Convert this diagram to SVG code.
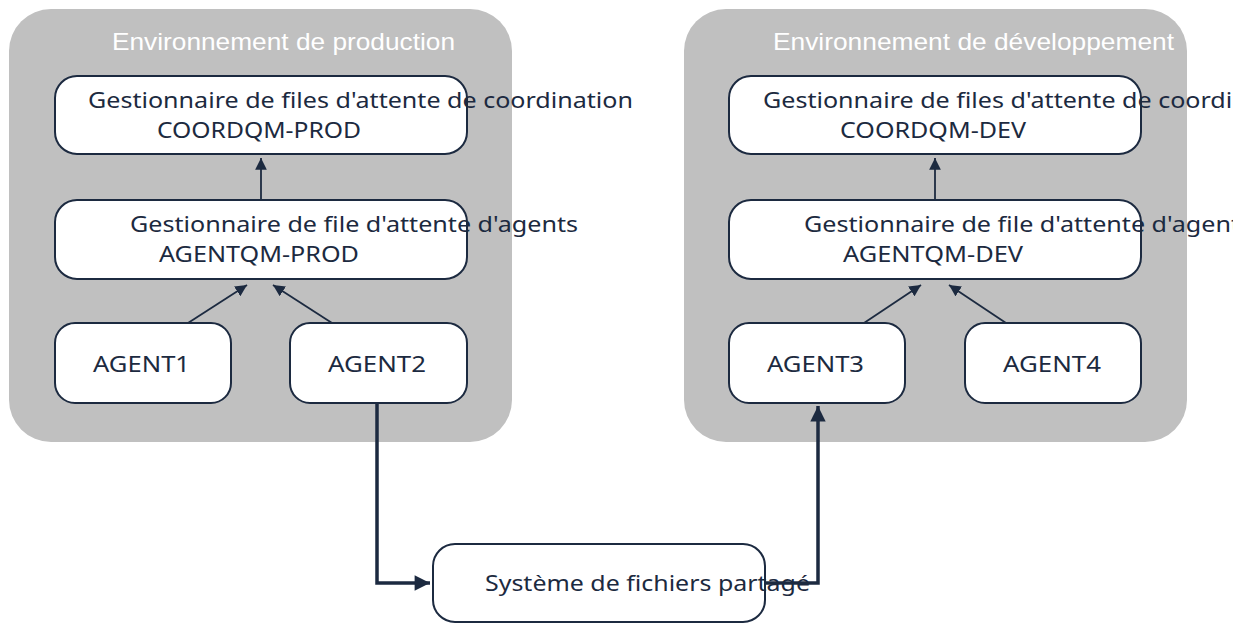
<svg xmlns="http://www.w3.org/2000/svg" width="1248" height="623" viewBox="0 0 1248 623">
<defs>
<style>
.env{fill:#c0c0c0;}
.title{font-family:"Liberation Sans",Arial,sans-serif;font-size:24px;fill:#ffffff;}
.box{fill:#ffffff;stroke:#1c2a40;stroke-width:2;}
.t{font-family:"Noto Sans","Open Sans",sans-serif;font-size:22px;fill:#1c2a40;}
.thin{stroke:#1c2a40;stroke-width:1.8;fill:none;marker-end:url(#ah);}
.thick{stroke:#1c2a40;stroke-width:3.5;fill:none;marker-end:url(#ahb);}
</style>
<clipPath id="edge"><rect x="0" y="0" width="1233" height="623"/></clipPath>
<marker id="ah" viewBox="0 0 10 10" refX="10" refY="5" markerWidth="6.5" markerHeight="6.5" markerUnits="strokeWidth" orient="auto">
<path d="M0,0 L10,5 L0,10 z" fill="#1c2a40"/>
</marker>
<marker id="ahb" viewBox="0 0 10 10" refX="10" refY="5" markerWidth="4.6" markerHeight="4.4" markerUnits="strokeWidth" orient="auto">
<path d="M0,0 L10,5 L0,10 z" fill="#1c2a40"/>
</marker>
</defs>
<rect width="1248" height="623" fill="#ffffff"/>

<g id="env-prod">
<rect class="env" x="9" y="9" width="503" height="433" rx="42"/>
<text class="title" x="112" y="50" textLength="343" lengthAdjust="spacingAndGlyphs">Environnement de production</text>
</g>
<g id="env-dev">
<rect class="env" x="684" y="9" width="503" height="433" rx="42"/>
<text class="title" x="773" y="50" textLength="401" lengthAdjust="spacingAndGlyphs">Environnement de développement</text>
</g>

<g id="connectors">
<line class="thin" x1="261" y1="200" x2="261" y2="158"/>
<line class="thin" x1="188" y1="323" x2="247" y2="285"/>
<line class="thin" x1="332" y1="323" x2="273" y2="285"/>
<line class="thin" x1="935" y1="200" x2="935" y2="158"/>
<line class="thin" x1="864" y1="323" x2="921" y2="285"/>
<line class="thin" x1="1006" y1="323" x2="949" y2="285"/>
</g>

<g id="coordqm-prod">
<rect class="box" x="55" y="76" width="412" height="78" rx="22"/>
<text class="t" x="88" y="108" textLength="545" lengthAdjust="spacingAndGlyphs">Gestionnaire de files d'attente de coordination</text>
<text class="t" x="157" y="138" textLength="204" lengthAdjust="spacingAndGlyphs">COORDQM-PROD</text>
</g>
<g id="agentqm-prod">
<rect class="box" x="55" y="200" width="412" height="79" rx="22"/>
<text class="t" x="130" y="232" textLength="448" lengthAdjust="spacingAndGlyphs">Gestionnaire de file d'attente d'agents</text>
<text class="t" x="159" y="262" textLength="200" lengthAdjust="spacingAndGlyphs">AGENTQM-PROD</text>
</g>
<g id="agent1">
<rect class="box" x="55" y="323" width="176" height="80" rx="20"/>
<text class="t" x="93" y="372" textLength="97" lengthAdjust="spacingAndGlyphs">AGENT1</text>
</g>
<g id="agent2">
<rect class="box" x="290" y="323" width="177" height="80" rx="20"/>
<text class="t" x="328" y="372" textLength="98" lengthAdjust="spacingAndGlyphs">AGENT2</text>
</g>

<g id="coordqm-dev">
<rect class="box" x="729" y="76" width="412" height="78" rx="22"/>
<text class="t" x="763" y="108" textLength="545" lengthAdjust="spacingAndGlyphs" clip-path="url(#edge)">Gestionnaire de files d'attente de coordination</text>
<text class="t" x="840" y="138" textLength="186" lengthAdjust="spacingAndGlyphs">COORDQM-DEV</text>
</g>
<g id="agentqm-dev">
<rect class="box" x="729" y="200" width="412" height="79" rx="22"/>
<text class="t" x="804" y="232" textLength="448" lengthAdjust="spacingAndGlyphs" clip-path="url(#edge)">Gestionnaire de file d'attente d'agents</text>
<text class="t" x="843" y="262" textLength="180" lengthAdjust="spacingAndGlyphs">AGENTQM-DEV</text>
</g>
<g id="agent3">
<rect class="box" x="729" y="323" width="176" height="80" rx="20"/>
<text class="t" x="767" y="372" textLength="97" lengthAdjust="spacingAndGlyphs">AGENT3</text>
</g>
<g id="agent4">
<rect class="box" x="965" y="323" width="176" height="80" rx="20"/>
<text class="t" x="1003" y="372" textLength="98" lengthAdjust="spacingAndGlyphs">AGENT4</text>
</g>

<g id="shared-fs">
<rect class="box" x="433" y="544" width="332" height="78" rx="22"/>
</g>

<g id="connectors-thick">
<polyline class="thick" points="377,403 377,583 430,583"/>
<polyline class="thick" points="765,583 818,583 818,406"/>
</g>
<text class="t" x="485" y="591" textLength="325" lengthAdjust="spacingAndGlyphs">Système de fichiers partagé</text>
</svg>
